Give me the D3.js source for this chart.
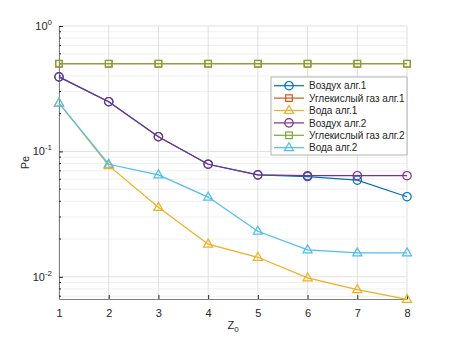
<!DOCTYPE html>
<html>
<head>
<meta charset="utf-8">
<script src="https://cdn.jsdelivr.net/npm/d3@7"></script>
<style>
  body { margin: 0; background: #fff; }
  text { font-family: "Liberation Sans", Arial, sans-serif; }
</style>
</head>
<body>
<div id="chart"></div>
<script>
var xValues = [1, 2, 3, 4, 5, 6, 7, 8];
var xTicks = [1, 2, 3, 4, 5, 6, 7, 8];
var yTicks = [0.01, 0.1, 1];
var yTickExp = ["-2", "-1", "0"];

var airAlg1 = [0.393, 0.249, 0.131, 0.079, 0.065, 0.063, 0.059, 0.0435];
var co2Alg1 = [0.5, 0.5, 0.5, 0.5, 0.5, 0.5, 0.5, 0.5];
var waterAlg1 = [0.243, 0.077, 0.0358, 0.0182, 0.0143, 0.0098, 0.0079, 0.0066];
var airAlg2 = [0.393, 0.249, 0.131, 0.079, 0.065, 0.064, 0.064, 0.064];
var co2Alg2 = [0.5, 0.5, 0.5, 0.5, 0.5, 0.5, 0.5, 0.5];
var waterAlg2 = [0.243, 0.079, 0.065, 0.0432, 0.0231, 0.0164, 0.0155, 0.0155];

var seriesNames = ["Воздух алг.1", "Углекислый газ алг.1", "Вода алг.1",
                   "Воздух алг.2", "Углекислый газ алг.2", "Вода алг.2"];
var seriesColors = ["#0072BD", "#D95319", "#EDB120", "#7E2F8E", "#77AC30", "#4DBEEE"];
var seriesMarkers = ["circle", "square", "triangle", "circle", "square", "triangle"];
var seriesData = [airAlg1, co2Alg1, waterAlg1, airAlg2, co2Alg2, waterAlg2];

var W = 450, H = 337;
var margin = {top: 26, right: 43, bottom: 38, left: 59};
var width = W - margin.left - margin.right;
var height = H - margin.top - margin.bottom;

var svg = d3.select("#chart").append("svg")
    .attr("width", W).attr("height", H);
var g = svg.append("g")
    .attr("transform", "translate(" + margin.left + "," + margin.top + ")");

var x = d3.scaleLinear().domain([1, 8]).range([0, width]);
var y = d3.scaleLog().domain([0.00665, 1]).range([height, 0]);

// grid
var minor = [];
[0.001, 0.01, 0.1].forEach(function(d) {
  for (var k = 2; k <= 9; k++) {
    var v = d * k;
    if (v >= y.domain()[0] && v <= 1) minor.push(v);
  }
});
g.selectAll(".minor").data(minor).enter().append("line")
    .attr("x1", 0).attr("x2", width)
    .attr("y1", function(d) { return y(d); }).attr("y2", function(d) { return y(d); })
    .attr("stroke", "#f0f0f0").attr("stroke-width", 1);
g.selectAll(".majory").data(yTicks).enter().append("line")
    .attr("x1", 0).attr("x2", width)
    .attr("y1", function(d) { return y(d); }).attr("y2", function(d) { return y(d); })
    .attr("stroke", "#e0e0e0").attr("stroke-width", 1);
g.selectAll(".majorx").data(xTicks).enter().append("line")
    .attr("x1", function(d) { return x(d); }).attr("x2", function(d) { return x(d); })
    .attr("y1", 0).attr("y2", height)
    .attr("stroke", "#e0e0e0").attr("stroke-width", 1);

// axes
var axisColor = "#262626";
var xAxis = g.append("g")
    .attr("transform", "translate(0," + height + ")")
    .call(d3.axisBottom(x).tickValues(xTicks).tickFormat(d3.format("d"))
      .tickSizeInner(-4).tickSizeOuter(0).tickPadding(10));
xAxis.select(".domain").attr("stroke", "#808080");
xAxis.selectAll(".tick line").attr("stroke", axisColor);
xAxis.selectAll("text").attr("fill", axisColor).style("font-size", "11px")
    .style("font-family", "Liberation Sans, Arial, sans-serif");

var yAxis = g.append("g")
    .call(d3.axisLeft(y).tickValues(yTicks).tickFormat("")
      .tickSizeInner(-4).tickSizeOuter(0));
yAxis.select(".domain").attr("stroke", "#808080");
yAxis.selectAll(".tick line").attr("stroke", axisColor);
g.selectAll(".minortick").data(minor).enter().append("line")
    .attr("x1", 0).attr("x2", 2)
    .attr("y1", function(d) { return y(d); }).attr("y2", function(d) { return y(d); })
    .attr("stroke", axisColor);

yTicks.forEach(function(v, i) {
  var t = g.append("text").attr("x", -7).attr("y", y(v) + 4)
      .attr("text-anchor", "end").attr("fill", axisColor).style("font-size", "11px");
  t.append("tspan").text("10");
  t.append("tspan").attr("dy", -5).style("font-size", "8px").text(yTickExp[i]);
});

// axis labels
g.append("text")
    .attr("transform", "translate(-30," + (height / 2) + ") rotate(-90)")
    .attr("text-anchor", "middle").attr("fill", axisColor).style("font-size", "11px")
    .text("Pe");
var xl = g.append("text").attr("x", width / 2).attr("y", height + 30)
    .attr("text-anchor", "middle").attr("fill", axisColor).style("font-size", "11px");
xl.append("tspan").text("Z");
xl.append("tspan").attr("dy", 3).style("font-size", "8px").text("0");

// markers
function drawMarker(sel, type, color) {
  if (type === "circle") {
    sel.append("circle").attr("r", 4.2)
      .attr("fill", "none").attr("stroke", color).attr("stroke-width", 1.2);
  } else if (type === "square") {
    sel.append("rect").attr("x", -3.3).attr("y", -3.3).attr("width", 6.6).attr("height", 6.6)
      .attr("fill", "none").attr("stroke", color).attr("stroke-width", 1.2);
  } else {
    sel.append("path").attr("d", "M0,-5L4.6,3L-4.6,3Z")
      .attr("fill", "none").attr("stroke", color).attr("stroke-width", 1.2);
  }
}

var line = d3.line()
    .x(function(d, i) { return x(xValues[i]); })
    .y(function(d) { return y(d); });

seriesData.forEach(function(data, s) {
  g.append("path").datum(data)
      .attr("fill", "none").attr("stroke", seriesColors[s]).attr("stroke-width", 1.2)
      .attr("d", line);
  data.forEach(function(d, i) {
    var m = g.append("g").attr("transform", "translate(" + x(xValues[i]) + "," + y(d) + ")");
    drawMarker(m, seriesMarkers[s], seriesColors[s]);
  });
});

// legend
var lg = svg.append("g").attr("transform", "translate(271,77)");
lg.append("rect").attr("width", 136).attr("height", 78)
    .attr("fill", "#fff").attr("stroke", "#a0a0a0").attr("stroke-width", 0.8);
seriesNames.forEach(function(name, s) {
  var row = lg.append("g").attr("transform", "translate(0," + (8.7 + s * 12.4) + ")");
  row.append("line").attr("x1", 3).attr("x2", 33).attr("y1", 0).attr("y2", 0)
      .attr("stroke", seriesColors[s]).attr("stroke-width", 1.2);
  var m = row.append("g").attr("transform", "translate(18,0)");
  drawMarker(m, seriesMarkers[s], seriesColors[s]);
  row.append("text").attr("x", 38).attr("y", 3.6)
      .attr("fill", axisColor).style("font-size", "10px").text(name);
});
</script>
</body>
</html>
